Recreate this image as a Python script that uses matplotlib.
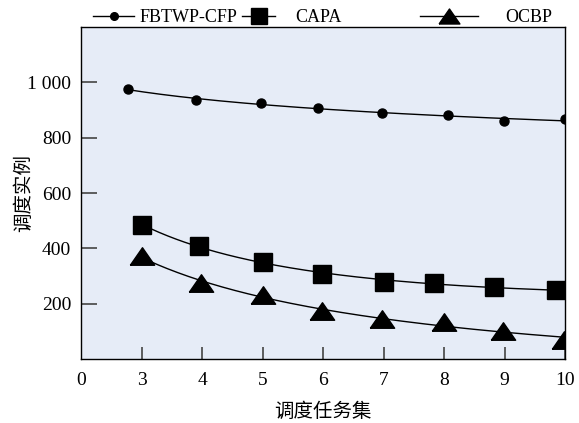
import numpy as np
import matplotlib
matplotlib.use("Agg")
import matplotlib.pyplot as plt
from matplotlib.lines import Line2D

plt.rcParams['font.family'] = ['Liberation Serif', 'Noto Sans CJK SC', 'DejaVu Sans']

# data
tick_pos = [2, 3, 4, 5, 6, 7, 8, 9, 10]
tick_labels = ['0', '3', '4', '5', '6', '7', '8', '9', '10']
ytick_pos = [200, 400, 600, 800, 1000]
ytick_labels = ['200', '400', '600', '800', '1 000']

fbtwp_x = [2.78, 3.90, 4.97, 5.92, 6.98, 8.07, 8.99, 10.0]
fbtwp_y = [975, 935, 927, 906, 888, 882, 860, 866]
capa_x = [3.01, 3.95, 5.0, 5.99, 7.0, 7.83, 8.83, 9.85]
capa_y = [483, 410, 351, 309, 280, 273, 261, 249]
ocbp_x = [3.0, 3.99, 5.0, 5.99, 6.98, 8.0, 8.98, 9.99]
ocbp_y = [371, 274, 231, 172, 143, 132, 101, 70]

# wide, flat triangle like the original
tri = [(-1, -0.72), (1, -0.72), (0, 0.72), (-1, -0.72)]


def trend(x, y, x_end=10.0):
    # smooth trend curve in log(x), as drawn in the original
    c = np.polyfit(np.log(x), y, 2)
    xs = np.linspace(x[0], x_end, 200)
    return xs, np.polyval(c, np.log(xs))


fig = plt.figure(figsize=(5.79, 4.23), dpi=100)
ax = fig.add_axes([81 / 579, 1 - 359 / 423, 484 / 579, 332 / 423])
ax.set_facecolor('#E6ECF7')

series = [
    (fbtwp_x, fbtwp_y, 'o', 6.5),
    (capa_x, capa_y, 's', 13),
    (ocbp_x, ocbp_y, tri, 17.5),
]
for x, y, m, ms in series:
    xs, ys = trend(x, y)
    ax.plot(xs, ys, color='black', lw=1.0, zorder=2)
    ax.plot(x, y, ls='none', marker=m, ms=ms, color='black', zorder=3)

ax.set_xlim(2, 10)
ax.set_ylim(0, 1200)
ax.set_xticks(tick_pos)
ax.set_xticklabels(tick_labels)
ax.set_yticks(ytick_pos)
ax.set_yticklabels(ytick_labels)
ax.tick_params(axis='x', direction='in', length=8.5, width=1.2, color='#444444',
               labelsize=14, pad=9)
ax.tick_params(axis='y', direction='in', length=11.5, width=1.2, color='#444444',
               labelsize=14, pad=7)
ax.xaxis.get_major_ticks()[0].tick1line.set_visible(False)
for s in ax.spines.values():
    s.set_linewidth(1.0)
    s.set_color('black')

ax.set_xlabel('调度任务集', fontsize=14, family=['Noto Sans CJK SC'])
ax.xaxis.set_label_coords(0.5, -0.125)
ax.set_ylabel('调度实例', fontsize=14, family=['Noto Sans CJK SC'])
ax.yaxis.set_label_coords(-0.097, 0.5)

# legend above the plot, three entries spaced like the original
entries = [
    ('FBTWP-CFP', 'o', 5.5, 93, 2.28, 0.28),
    ('CAPA', 's', 11, 242, 1.83, 1.1),
    ('OCBP', tri, 15, 420, 3.2, 1.5),
]
for label, m, ms, x0, hl, hp in entries:
    h = Line2D([], [], color='black', lw=1.0, marker=m, ms=ms)
    fig.legend([h], [label], loc='center left', bbox_to_anchor=(x0 / 579, 1 - 18 / 423),
               frameon=False, fontsize=13, handlelength=hl, handletextpad=hp,
               borderpad=0, borderaxespad=0)

fig.savefig('out.png', dpi=100)
